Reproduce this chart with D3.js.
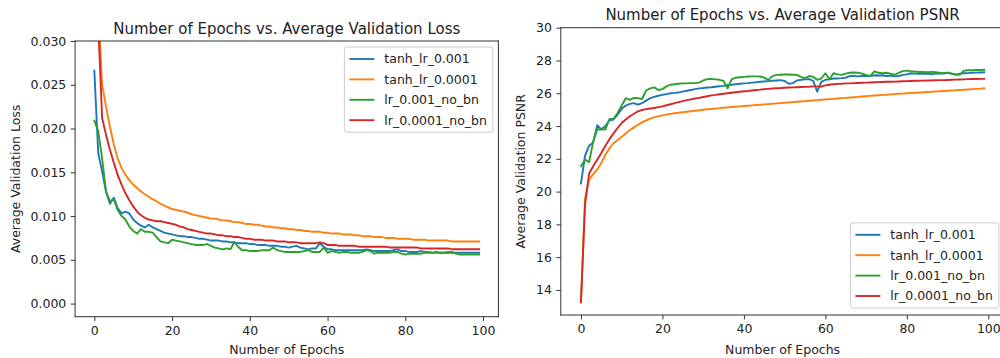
<!DOCTYPE html>
<html>
<head>
<meta charset="utf-8">
<script src="https://cdn.jsdelivr.net/npm/d3@7"></script>
<style>
  body { margin: 0; background: #fff; }
  svg { display: block; font-family: "DejaVu Sans", sans-serif; }
  .tick text { fill: #222; }
</style>
</head>
<body>
<div id="chart"></div>
<script>
// series names and colours
const seriesNames = ['tanh_lr_0.001', 'tanh_lr_0.0001', 'lr_0.001_no_bn', 'lr_0.0001_no_bn'];
const seriesColors = ['#1f77b4', '#ff7f0e', '#2ca02c', '#d62728'];

// average validation loss per epoch (0..99)
const lossTanh001 = [
  0.0266, 0.0172, 0.0151, 0.0128, 0.0114, 0.0121, 0.0109, 0.0103, 0.0105, 0.0103,
  0.0096, 0.0092, 0.0089, 0.0087, 0.0090, 0.0087, 0.0085, 0.0083, 0.0081, 0.0080,
  0.0079, 0.0078, 0.0077, 0.0077, 0.0076, 0.0076, 0.0075, 0.0074, 0.0074, 0.0073,
  0.0072, 0.0072, 0.0072, 0.0071, 0.0071, 0.0070, 0.0070, 0.0069, 0.0069, 0.0069,
  0.0068, 0.0068, 0.0067, 0.0067, 0.0067, 0.0066, 0.0066, 0.0066, 0.0065, 0.0065,
  0.0064, 0.0065, 0.0066, 0.0064, 0.0063, 0.0062, 0.0063, 0.0063, 0.0069, 0.0065,
  0.0062, 0.0062, 0.0061, 0.0061, 0.0061, 0.0061, 0.0061, 0.0061, 0.0061, 0.0061,
  0.0062, 0.0061, 0.0060, 0.0060, 0.0060, 0.0060, 0.0060, 0.0061, 0.0062, 0.0060,
  0.0060, 0.0059, 0.0059, 0.0059, 0.0060, 0.0059, 0.0059, 0.0058, 0.0059, 0.0058,
  0.0058, 0.0058, 0.0058, 0.0058, 0.0058, 0.0058, 0.0058, 0.0058, 0.0058, 0.0058
];
const lossTanh0001 = [
  0.0600, 0.0340, 0.0250, 0.0225, 0.0202, 0.0182, 0.0166, 0.0155, 0.0147, 0.0141,
  0.0136, 0.0132, 0.0128, 0.0125, 0.0122, 0.0119, 0.0117, 0.0114, 0.0112, 0.0110,
  0.0108, 0.0107, 0.0106, 0.0105, 0.0104, 0.0102, 0.0101, 0.0100, 0.0099, 0.0098,
  0.0097, 0.0097, 0.0096, 0.0095, 0.0095, 0.0094, 0.0093, 0.0093, 0.0092, 0.0091,
  0.0091, 0.0090, 0.0090, 0.0089, 0.0088, 0.0088, 0.0087, 0.0087, 0.0086, 0.0086,
  0.0085, 0.0085, 0.0084, 0.0084, 0.0083, 0.0083, 0.0082, 0.0082, 0.0082, 0.0081,
  0.0081, 0.0080, 0.0080, 0.0080, 0.0079, 0.0079, 0.0079, 0.0078, 0.0078, 0.0077,
  0.0077, 0.0077, 0.0076, 0.0076, 0.0076, 0.0075, 0.0075, 0.0075, 0.0074, 0.0074,
  0.0074, 0.0074, 0.0073, 0.0073, 0.0073, 0.0073, 0.0072, 0.0072, 0.0072, 0.0072,
  0.0072, 0.0072, 0.0071, 0.0071, 0.0071, 0.0071, 0.0071, 0.0071, 0.0071, 0.0071
];
const lossNoBn001 = [
  0.0209, 0.0197, 0.0166, 0.0128, 0.0117, 0.0119, 0.0107, 0.0100, 0.0096, 0.0088,
  0.0083, 0.0080, 0.0085, 0.0082, 0.0082, 0.0081, 0.0076, 0.0071, 0.0070, 0.0069,
  0.0073, 0.0072, 0.0071, 0.0070, 0.0069, 0.0068, 0.0067, 0.0067, 0.0067, 0.0068,
  0.0066, 0.0064, 0.0063, 0.0062, 0.0063, 0.0062, 0.0070, 0.0065, 0.0061, 0.0061,
  0.0060, 0.0060, 0.0060, 0.0061, 0.0061, 0.0061, 0.0064, 0.0061, 0.0060, 0.0059,
  0.0059, 0.0059, 0.0059, 0.0059, 0.0060, 0.0061, 0.0059, 0.0059, 0.0059, 0.0064,
  0.0058, 0.0060, 0.0059, 0.0058, 0.0059, 0.0059, 0.0058, 0.0058, 0.0058, 0.0059,
  0.0061, 0.0060, 0.0057, 0.0058, 0.0058, 0.0058, 0.0058, 0.0059, 0.0059, 0.0057,
  0.0056, 0.0057, 0.0057, 0.0057, 0.0057, 0.0058, 0.0058, 0.0058, 0.0058, 0.0058,
  0.0058, 0.0059, 0.0059, 0.0057, 0.0056, 0.0056, 0.0056, 0.0056, 0.0056, 0.0056
];
const lossNoBn0001 = [
  0.0550, 0.0320, 0.0212, 0.0193, 0.0176, 0.0161, 0.0147, 0.0136, 0.0126, 0.0118,
  0.0111, 0.0105, 0.0101, 0.0098, 0.0096, 0.0095, 0.0094, 0.0094, 0.0093, 0.0092,
  0.0091, 0.0090, 0.0088, 0.0087, 0.0085, 0.0084, 0.0083, 0.0082, 0.0081, 0.0080,
  0.0080, 0.0079, 0.0078, 0.0078, 0.0077, 0.0077, 0.0076, 0.0076, 0.0075, 0.0074,
  0.0074, 0.0073, 0.0073, 0.0073, 0.0072, 0.0072, 0.0072, 0.0071, 0.0071, 0.0071,
  0.0070, 0.0070, 0.0070, 0.0069, 0.0069, 0.0069, 0.0069, 0.0069, 0.0070, 0.0069,
  0.0067, 0.0067, 0.0067, 0.0066, 0.0066, 0.0066, 0.0066, 0.0066, 0.0065, 0.0065,
  0.0065, 0.0065, 0.0065, 0.0065, 0.0065, 0.0065, 0.0064, 0.0064, 0.0064, 0.0064,
  0.0064, 0.0064, 0.0064, 0.0064, 0.0063, 0.0063, 0.0063, 0.0063, 0.0063, 0.0063,
  0.0063, 0.0063, 0.0062, 0.0062, 0.0062, 0.0062, 0.0062, 0.0062, 0.0062, 0.0062
];

// average validation PSNR per epoch (0..99)
const psnrTanh001 = [
  20.50, 22.20, 22.80, 23.00, 24.05, 23.80, 24.00, 24.35, 24.40, 24.70,
  25.05, 25.25, 25.35, 25.40, 25.30, 25.40, 25.55, 25.70, 25.78, 25.85,
  25.90, 25.95, 26.00, 26.02, 26.05, 26.10, 26.15, 26.20, 26.25, 26.30,
  26.32, 26.35, 26.37, 26.40, 26.43, 26.45, 26.50, 26.52, 26.55, 26.58,
  26.60, 26.62, 26.65, 26.67, 26.70, 26.72, 26.74, 26.76, 26.78, 26.80,
  26.75, 26.58, 26.62, 26.78, 26.82, 26.85, 26.86, 26.75, 26.10, 26.70,
  26.82, 26.85, 26.90, 26.90, 26.92, 26.95, 27.05, 27.05, 27.03, 27.05,
  27.05, 27.05, 27.10, 27.08, 27.10, 27.05, 27.08, 27.03, 27.05, 27.12,
  27.15, 27.22, 27.20, 27.18, 27.19, 27.20, 27.15, 27.20, 27.22, 27.20,
  27.25, 27.20, 27.13, 27.20, 27.22, 27.23, 27.25, 27.26, 27.27, 27.28
];
const psnrTanh0001 = [
  13.30, 19.60, 20.75, 21.05, 21.35, 21.75, 22.25, 22.65, 22.95, 23.15,
  23.35, 23.55, 23.75, 23.92, 24.08, 24.22, 24.35, 24.45, 24.53, 24.60,
  24.65, 24.70, 24.74, 24.78, 24.81, 24.84, 24.87, 24.90, 24.93, 24.96,
  24.99, 25.02, 25.04, 25.07, 25.09, 25.12, 25.14, 25.16, 25.18, 25.20,
  25.22, 25.24, 25.26, 25.28, 25.30, 25.32, 25.34, 25.36, 25.38, 25.40,
  25.42, 25.44, 25.46, 25.48, 25.50, 25.52, 25.54, 25.56, 25.58, 25.60,
  25.62, 25.64, 25.66, 25.68, 25.70, 25.72, 25.74, 25.76, 25.78, 25.80,
  25.82, 25.84, 25.86, 25.88, 25.90, 25.91, 25.93, 25.95, 25.97, 25.98,
  26.00, 26.02, 26.03, 26.05, 26.06, 26.08, 26.09, 26.11, 26.12, 26.14,
  26.15, 26.17, 26.18, 26.20, 26.21, 26.23, 26.25, 26.27, 26.28, 26.30
];
const psnrNoBn001 = [
  21.55, 21.95, 21.80, 23.05, 23.80, 23.78, 23.80, 24.43, 24.43, 24.80,
  25.25, 25.70, 25.60, 25.72, 25.70, 25.65, 26.17, 26.30, 26.36, 26.20,
  26.25, 26.42, 26.52, 26.55, 26.58, 26.60, 26.60, 26.62, 26.62, 26.65,
  26.78, 26.86, 26.88, 26.85, 26.82, 26.75, 26.30, 26.85, 26.95, 26.98,
  27.00, 27.02, 27.03, 27.03, 27.02, 26.95, 26.80, 27.05, 27.12, 27.13,
  27.14, 27.14, 27.13, 27.12, 27.00, 26.92, 27.05, 27.00, 26.82, 26.90,
  27.22, 26.85, 27.22, 27.15, 27.12, 27.20, 27.25, 27.27, 27.25, 27.20,
  27.12, 27.05, 27.33, 27.25, 27.22, 27.25, 27.20, 27.12, 27.25, 27.35,
  27.38, 27.35, 27.33, 27.30, 27.30, 27.28, 27.30, 27.28, 27.25, 27.22,
  27.25, 27.20, 27.15, 27.12, 27.38, 27.40, 27.40, 27.42, 27.42, 27.43
];
const psnrNoBn0001 = [
  13.25, 19.20, 21.10, 21.55, 21.95, 22.35, 22.80, 23.20, 23.55, 23.88,
  24.18, 24.40, 24.60, 24.75, 24.90, 24.98, 25.03, 25.07, 25.10, 25.15,
  25.20, 25.27, 25.33, 25.40, 25.46, 25.52, 25.58, 25.63, 25.68, 25.72,
  25.77, 25.82, 25.87, 25.90, 25.94, 25.97, 26.00, 26.03, 26.06, 26.09,
  26.12, 26.14, 26.17, 26.20, 26.22, 26.25, 26.27, 26.29, 26.31, 26.32,
  26.34, 26.35, 26.36, 26.37, 26.38, 26.39, 26.40, 26.42, 26.42, 26.40,
  26.48, 26.52, 26.55, 26.57, 26.58, 26.60, 26.60, 26.62, 26.63, 26.64,
  26.65, 26.66, 26.67, 26.68, 26.69, 26.70, 26.70, 26.71, 26.72, 26.73,
  26.74, 26.75, 26.76, 26.76, 26.77, 26.78, 26.78, 26.79, 26.80, 26.80,
  26.81, 26.82, 26.83, 26.84, 26.85, 26.86, 26.87, 26.87, 26.88, 26.88
];

// tick values
const epochTicks = [0, 20, 40, 60, 80, 100];
const lossTicks = [0.000, 0.005, 0.010, 0.015, 0.020, 0.025, 0.030];
const psnrTicks = [14, 16, 18, 20, 22, 24, 26, 28, 30];

const W = 1000, H = 358;
const svg = d3.select('#chart').append('svg')
  .attr('width', W)
  .attr('height', H);

function drawPanel(opt) {
  const x = d3.scaleLinear().domain([-4.95, 103.95]).range([opt.left, opt.right]);
  const y = d3.scaleLinear().domain(opt.yDomain).range([opt.bottom, opt.top]);

  const g = svg.append('g').attr('class', 'panel ' + opt.id);

  g.append('clipPath')
    .attr('id', 'clip-' + opt.id)
    .append('rect')
      .attr('x', opt.left)
      .attr('y', opt.top)
      .attr('width', opt.right - opt.left)
      .attr('height', opt.bottom - opt.top);

  // lines
  const line = d3.line()
    .x((d, i) => x(i))
    .y(d => y(d));

  g.append('g')
    .attr('clip-path', 'url(#clip-' + opt.id + ')')
    .selectAll('path')
    .data(opt.series)
    .enter().append('path')
      .attr('d', d => line(d))
      .attr('fill', 'none')
      .attr('stroke', (d, i) => seriesColors[i])
      .attr('stroke-width', 1.9)
      .attr('stroke-linejoin', 'round')
      .attr('stroke-linecap', 'square');

  // axes
  const xAxis = d3.axisBottom(x)
    .tickValues(epochTicks)
    .tickFormat(d3.format('d'))
    .tickSizeInner(4.4)
    .tickSizeOuter(0)
    .tickPadding(5);
  const yAxis = d3.axisLeft(y)
    .tickValues(opt.yTicks)
    .tickFormat(opt.yFormat)
    .tickSizeInner(4.4)
    .tickSizeOuter(0)
    .tickPadding(4.4);

  const gx = g.append('g')
    .attr('transform', 'translate(0,' + opt.bottom + ')')
    .call(xAxis);
  const gy = g.append('g')
    .attr('transform', 'translate(' + opt.left + ',0)')
    .call(yAxis);
  [gx, gy].forEach(a => {
    a.select('.domain').remove();
    a.selectAll('.tick line').attr('stroke', '#333').attr('stroke-width', 1);
    a.selectAll('.tick text').attr('font-size', '12.5px').attr('font-family', '"DejaVu Sans"');
  });

  // spines
  const spines = [
    [opt.left, opt.top, opt.left, opt.bottom],
    [opt.left, opt.bottom, opt.right, opt.bottom],
    [opt.left, opt.top, opt.right, opt.top],
    [opt.right, opt.top, opt.right, opt.bottom]
  ];
  g.append('g').selectAll('line')
    .data(spines)
    .enter().append('line')
      .attr('x1', d => d[0]).attr('y1', d => d[1])
      .attr('x2', d => d[2]).attr('y2', d => d[3])
      .attr('stroke', '#333')
      .attr('stroke-width', 1)
      .attr('stroke-linecap', 'square');

  // titles and labels
  const cx = (opt.left + opt.right) / 2;
  g.append('text')
    .attr('x', cx)
    .attr('y', opt.top - 7.4)
    .attr('text-anchor', 'middle')
    .attr('font-size', '15px')
    .attr('fill', '#222')
    .text(opt.title);
  g.append('text')
    .attr('x', cx)
    .attr('y', 353.5)
    .attr('text-anchor', 'middle')
    .attr('font-size', '12.5px')
    .attr('fill', '#222')
    .text('Number of Epochs');
  g.append('text')
    .attr('transform', 'translate(' + opt.yLabelX + ',' + ((opt.top + opt.bottom) / 2) + ') rotate(-90)')
    .attr('text-anchor', 'middle')
    .attr('font-size', '12.5px')
    .attr('fill', '#222')
    .text(opt.yLabel);

  // legend
  const fs = 12.5;
  const rowH = 20.4;
  const leg = g.append('g');
  const box = leg.append('rect')
    .attr('fill', 'rgba(255,255,255,0.8)')
    .attr('stroke', '#cccccc')
    .attr('stroke-width', 1)
    .attr('rx', 2.5);
  const rows = leg.selectAll('g.item')
    .data(seriesNames)
    .enter().append('g')
      .attr('class', 'item')
      .attr('transform', (d, i) => 'translate(0,' + (i * rowH) + ')');
  rows.append('line')
    .attr('x1', 5).attr('x2', 30)
    .attr('y1', 0).attr('y2', 0)
    .attr('stroke', (d, i) => seriesColors[i])
    .attr('stroke-width', 1.9);
  const texts = rows.append('text')
    .attr('x', 40)
    .attr('y', 0)
    .attr('dy', '0.35em')
    .attr('font-size', fs + 'px')
    .attr('fill', '#222')
    .text(d => d);
  let maxW = 0;
  texts.each(function() { maxW = Math.max(maxW, this.getComputedTextLength()); });
  const boxW = 40 + maxW + 6;
  const boxH = rowH * 3 + 24;
  box.attr('x', 0).attr('y', -12).attr('width', boxW).attr('height', boxH);
  const lx = opt.right - 5.5 - boxW;
  const ly = opt.legendTop ? opt.top + 6 + 12 : opt.bottom - 7 - boxH + 12;
  leg.attr('transform', 'translate(' + lx + ',' + ly + ')');
}

drawPanel({
  id: 'loss',
  left: 75.1, right: 498.4, top: 41, bottom: 316.7,
  yDomain: [-0.0015, 0.030],
  yTicks: lossTicks,
  yFormat: d3.format('.3f'),
  title: 'Number of Epochs vs. Average Validation Loss',
  yLabel: 'Average Validation Loss',
  yLabelX: 19.5,
  legendTop: true,
  series: [lossTanh001, lossTanh0001, lossNoBn001, lossNoBn0001]
});

drawPanel({
  id: 'psnr',
  left: 560.8, right: 1004.4, top: 27.7, bottom: 315,
  yDomain: [12.47, 30],
  yTicks: psnrTicks,
  yFormat: d3.format('d'),
  title: 'Number of Epochs vs. Average Validation PSNR',
  yLabel: 'Average Validation PSNR',
  yLabelX: 525,
  legendTop: false,
  series: [psnrTanh001, psnrTanh0001, psnrNoBn001, psnrNoBn0001]
});
</script>
</body>
</html>
